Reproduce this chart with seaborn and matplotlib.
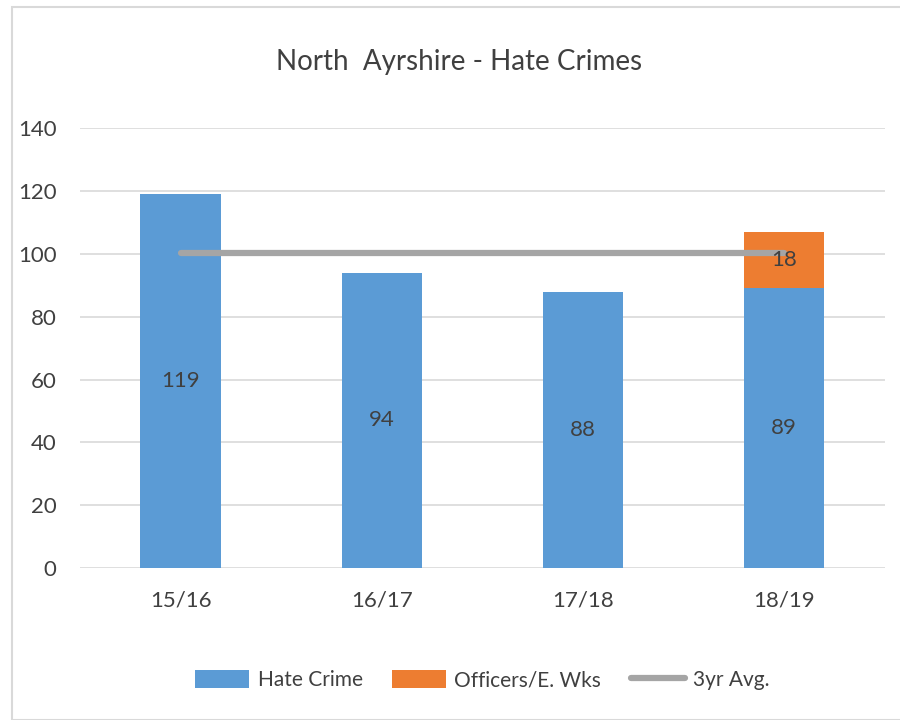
import matplotlib.pyplot as plt
import seaborn as sns
import pandas as pd
from matplotlib.patches import Rectangle

# data
years = ["15/16", "16/17", "17/18", "18/19"]
hate_crime = [119, 94, 88, 89]
officers = [0, 0, 0, 18]
avg_3yr = [100.3, 100.3, 100.3, 100.3]

df = pd.DataFrame({"year": years, "hate": hate_crime, "off": officers, "avg": avg_3yr})

sns.set_style("white")
plt.rcParams['font.family'] = ['Lato', 'DejaVu Sans']

blue = "#5B9BD5"
orange = "#ED7D31"
grey = "#A5A5A5"
txt = "#404040"

fig = plt.figure(figsize=(9, 7.2), dpi=100)
ax = fig.add_axes([0.089, 0.211, 0.894, 0.611])

sns.barplot(data=df, x="year", y="hate", color=blue, width=0.4, ax=ax,
            saturation=1, label="Hate Crime", zorder=2, linewidth=0)
sns.barplot(data=df, x="year", y="off", bottom=df["hate"], color=orange, width=0.4,
            ax=ax, saturation=1, label="Officers/E. Wks", zorder=2, linewidth=0)
sns.lineplot(data=df, x="year", y="avg", color=grey, linewidth=4.5, ax=ax,
             label="3yr Avg.", zorder=3, solid_capstyle="round")

# value labels
for i, (h, o) in enumerate(zip(hate_crime, officers)):
    ax.text(i, h / 2, str(h), ha="center", va="center", fontsize=16, color=txt, zorder=4)
    if o > 0:
        ax.text(i, h + o / 2, str(o), ha="center", va="center", fontsize=16, color=txt, zorder=4)

ax.set_ylim(0, 140)
ax.set_xlim(-0.5, 3.5)
ax.set_yticks(range(0, 141, 20))
ax.yaxis.grid(True, color="#D9D9D9", linewidth=1.2, zorder=0)
ax.set_axisbelow(True)
for s in ax.spines.values():
    s.set_visible(False)
ax.set_xlabel("")
ax.set_ylabel("")
ax.tick_params(axis="both", length=0, labelsize=16, labelcolor=txt)
ax.tick_params(axis="x", pad=16)
ax.tick_params(axis="y", pad=17)

fig.text(0.51, 0.914, "North  Ayrshire - Hate Crimes", ha="center", va="center",
         fontsize=20, color=txt)

handles, labels = ax.get_legend_handles_labels()
order = [labels.index(n) for n in ["Hate Crime", "Officers/E. Wks", "3yr Avg."]]
ax.legend([handles[i] for i in order], [labels[i] for i in order],
          loc="center", bbox_to_anchor=(0.5, -0.255), ncol=3, frameon=False,
          fontsize=15, handlelength=2.6, handleheight=0.9, columnspacing=1.4,
          labelcolor=txt, handletextpad=0.4)

fig.add_artist(Rectangle((0.013, 0.0), 1.2, 0.99, transform=fig.transFigure,
                         fill=False, edgecolor="#D9D9D9", linewidth=1.5))

fig.savefig("out.png", dpi=100)
